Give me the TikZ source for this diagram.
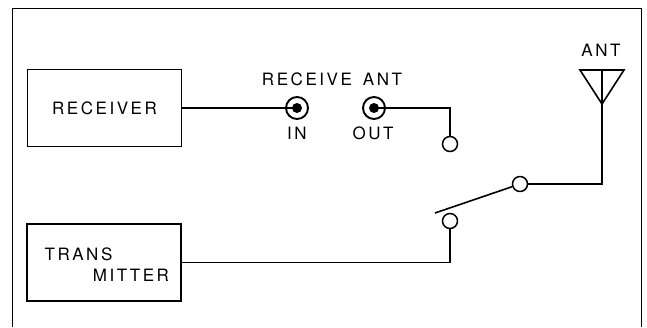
\documentclass[tikz,border=0pt]{standalone}
\usepackage{fontspec}
\setmainfont{TeX Gyre Heros}[LetterSpace=15]
\begin{document}
\begin{tikzpicture}[x=1pt,y=-1pt,
    unit/.style={draw,line width=1.8,minimum width=154,minimum height=77,inner sep=0,font=\fontsize{17}{18}\selectfont},
    wire/.style={line width=1.6},
    jack/.style={circle,draw,line width=1.9,minimum size=22,inner sep=0},
    contact/.style={circle,draw,line width=1.5,minimum size=15,inner sep=0},
    lbl/.style={inner sep=0,font=\fontsize{17}{18}\selectfont}]
    \useasboundingbox (0,0) rectangle (647,327);
    % frame, open at the bottom
    \draw[line width=0.9] (12,327) |- (641,8) -- (641,327);
    % units
    \node[unit] (rx) at (104.5,108) {RECEIVER};
    \node[unit] (tx) at (104,262.5) {};
    \node[lbl] (txa) at (78.5,254) {TRANS};
    \node[lbl] (txb) at (131,275) {MITTER};
    % receive antenna jacks
    \node[jack] (in) at (297,108) {};
    \node[jack] (out) at (374,108) {};
    \fill (in) circle (5);
    \fill (out) circle (5);
    \node[lbl] (rant) at (332,79.5) {RECEIVE\hspace{11pt}ANT};
    \node[lbl] (inl) at (297,133.5) {IN};
    \node[lbl] (outl) at (373,133.5) {OUT};
    \draw[wire] (rx.east) -- (in.center);
    \node[contact] (rc) at (450,144) {};
    \draw[wire] (out.center) -| (rc.north);
    % change-over switch
    \node[contact] (piv) at (520,184) {};
    \node[contact] (tc) at (450,221) {};
    \coordinate (blade) at (435,213);
    \draw[wire] (piv) -- (blade);
    \draw[wire] (tc.south) |- (tx.east);
    % antenna
    \coordinate (feed) at (602,104);
    \coordinate (antl) at (580,70);
    \coordinate (antr) at (624,70);
    \coordinate (antm) at (602,70);
    \draw[wire,line join=miter] (antl) -- (antr) -- (feed) -- cycle;
    \draw[wire] (antm) -- (feed);
    \draw[wire] (piv.east) -| (feed);
    \node[lbl] (ant) at (601,50) {ANT};
\end{tikzpicture}
\end{document}
